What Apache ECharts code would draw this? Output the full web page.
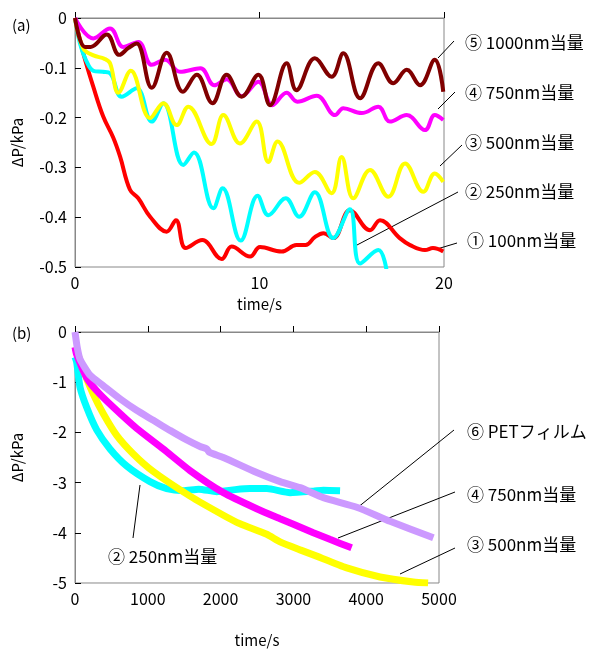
<!DOCTYPE html>
<html><head><meta charset="utf-8">
<script src="https://cdn.jsdelivr.net/npm/echarts@6/dist/echarts.min.js"></script>
<style>html,body{margin:0;padding:0;background:#fff}#c{width:595px;height:649px}</style>
</head><body><div id="c"></div>
<script>
// ---- Panel (a): time (s) vs ΔP (kPa) ----
const a100 = [[0,0],[0.45,-0.071],[0.99,-0.138],[1.53,-0.198],[2.07,-0.24],[2.44,-0.278],[2.98,-0.345],[3.43,-0.362],[4.07,-0.399],[4.97,-0.429],[5.47,-0.406],[6.0,-0.462],[6.9,-0.446],[7.95,-0.484],[8.49,-0.459],[9.49,-0.479],[10.03,-0.46],[11.2,-0.469],[12.0,-0.456],[12.5,-0.456],[13.0,-0.44],[13.46,-0.432],[14.0,-0.442],[14.9,-0.386],[15.99,-0.426],[16.53,-0.406],[17.6,-0.442],[18.16,-0.456],[18.97,-0.466],[19.4,-0.462],[19.96,-0.469]];
const a250 = [[0,0],[0.27,-0.051],[0.6,-0.085],[1.0,-0.106],[1.5,-0.108],[1.9,-0.111],[2.53,-0.158],[3.34,-0.141],[4.16,-0.208],[4.79,-0.171],[5.87,-0.295],[6.45,-0.27],[7.5,-0.382],[8.0,-0.342],[8.98,-0.447],[9.9,-0.357],[10.48,-0.396],[11.42,-0.362],[12.15,-0.399],[13.0,-0.35],[14.0,-0.442],[14.9,-0.384],[15.45,-0.493],[16.44,-0.466],[16.9,-0.51]];
const a500 = [[0,0],[0.45,-0.061],[1.0,-0.075],[1.6,-0.082],[1.9,-0.091],[2.35,-0.15],[3.02,-0.106],[4.07,-0.201],[4.79,-0.171],[5.51,-0.215],[6.14,-0.178],[7.4,-0.253],[8.04,-0.195],[8.94,-0.252],[9.85,-0.208],[10.48,-0.289],[10.98,-0.248],[12.15,-0.331],[13.0,-0.309],[13.9,-0.352],[14.45,-0.279],[15.08,-0.362],[15.99,-0.305],[16.98,-0.359],[17.89,-0.292],[18.88,-0.349],[19.5,-0.312],[19.96,-0.329]];
const a750 = [[0,0],[0.99,-0.041],[1.9,-0.021],[2.62,-0.058],[3.43,-0.048],[4.16,-0.094],[4.88,-0.084],[5.69,-0.108],[6.8,-0.101],[7.55,-0.135],[8.22,-0.123],[9.03,-0.157],[9.94,-0.128],[10.7,-0.175],[11.47,-0.15],[12.05,-0.168],[13.1,-0.156],[14.1,-0.195],[14.54,-0.181],[15.54,-0.191],[16.44,-0.178],[17.07,-0.208],[17.98,-0.195],[18.97,-0.225],[19.5,-0.195],[19.96,-0.205]];
const a1000 = [[0,0],[0.54,-0.058],[0.85,-0.058],[1.72,-0.033],[2.4,-0.074],[2.9,-0.06],[3.34,-0.051],[4.16,-0.14],[4.97,-0.07],[5.85,-0.148],[6.6,-0.114],[7.45,-0.171],[8.22,-0.114],[9.03,-0.158],[9.94,-0.114],[10.57,-0.175],[11.47,-0.091],[12.0,-0.145],[13.0,-0.081],[13.91,-0.118],[14.54,-0.071],[15.45,-0.161],[16.44,-0.091],[17.25,-0.131],[17.98,-0.104],[18.7,-0.135],[19.5,-0.084],[19.96,-0.148]];

// ---- Panel (b): time (s) vs ΔP (kPa) ----
const b250 = [[0,-0.5],[23,-0.6],[69,-1.1],[160,-1.5],[298,-1.95],[481,-2.33],[710,-2.67],[1030,-2.98],[1260,-3.12],[1488,-3.16],[1700,-3.13],[1947,-3.18],[2200,-3.14],[2404,-3.12],[2634,-3.12],[2954,-3.2],[3274,-3.17],[3412,-3.15],[3641,-3.16]];
const b500 = [[0,-0.3],[23,-0.38],[137,-0.84],[252,-1.24],[389,-1.63],[573,-2.06],[801,-2.43],[1076,-2.78],[1580,-3.27],[2038,-3.65],[2267,-3.82],[2634,-4.03],[2817,-4.18],[3092,-4.34],[3274,-4.44],[3733,-4.7],[4191,-4.88],[4648,-4.98],[4850,-5.0]];
const b750 = [[0,-0.3],[23,-0.45],[160,-0.91],[298,-1.17],[527,-1.5],[847,-1.92],[1213,-2.33],[1580,-2.76],[2038,-3.2],[2496,-3.52],[2817,-3.72],[3000,-3.83],[3274,-4.0],[3500,-4.13],[3800,-4.3]];
const bPET = [[0,0],[30,-0.3],[69,-0.54],[206,-0.86],[389,-1.07],[618,-1.33],[847,-1.56],[1076,-1.76],[1305,-1.96],[1535,-2.15],[1718,-2.28],[1810,-2.33],[1850,-2.4],[2038,-2.5],[2496,-2.8],[2817,-2.98],[3092,-3.1],[3412,-3.3],[3870,-3.49],[4328,-3.77],[4923,-4.1]];

const yTicksA = [0,-0.1,-0.2,-0.3,-0.4,-0.5];
const xTicksA = [0,10,20];
const yTicksB = [0,-1,-2,-3,-4,-5];
const xTicksB = [0,1000,2000,3000,4000,5000];

const FONT = "'Noto Sans CJK JP','Noto Sans',sans-serif";
const chart = echarts.init(document.getElementById('c'), null, {renderer:'canvas'});

function xAx(idx, min, max, interval, gap){
  return {gridIndex: idx, type:'value', min, max, interval,
    name:'time/s', nameLocation:'middle', nameGap:gap,
    nameTextStyle:{fontSize:15, color:'#000', fontFamily:FONT},
    axisLine:{show:true, lineStyle:{color:'#888', width:1}},
    axisTick:{show:true, inside:true, length:6, lineStyle:{color:'#000'}},
    axisLabel:{fontSize:16, color:'#000', fontFamily:FONT, margin:8, formatter: v => String(v)},
    splitLine:{show:false}};
}
function yAx(idx, min, max, interval){
  return {gridIndex: idx, type:'value', min, max, interval,
    name:'ΔP/kPa', nameLocation:'middle', nameGap:50, nameRotate:90,
    nameTextStyle:{fontSize:15, color:'#000', fontFamily:FONT},
    axisLine:{show:true, lineStyle:{color:'#888', width:1}},
    axisTick:{show:true, inside:true, length:6, lineStyle:{color:'#000'}},
    axisLabel:{fontSize:16, color:'#000', fontFamily:FONT, margin:8, formatter: v => String(Math.round(v*10)/10)},
    splitLine:{show:false}};
}
function ln(data, color, w, xi, smooth){
  return {type:'line', xAxisIndex:xi, yAxisIndex:xi, data, showSymbol:false, symbol:'none',
    smooth: smooth, clip:true, lineStyle:{color, width:w}, itemStyle:{color}};
}

const gText = (t, x, y, size) => ({type:'text', style:{text:t, x, y, fill:'#000', fontSize:size||17, fontFamily:FONT, verticalAlign:'middle'}});
const gLine = (x1,y1,x2,y2) => ({type:'line', shape:{x1,y1,x2,y2}, style:{stroke:'#000', lineWidth:1}});

chart.setOption({
  animation:false,
  backgroundColor:'#fff',
  grid:[
    {left:75, top:18, width:369, height:249, show:true, borderColor:'#888', borderWidth:1},
    {left:75, top:332, width:364, height:255, show:true, borderColor:'#888', borderWidth:1}
  ],
  xAxis:[xAx(0,0,20,10,30), xAx(1,0,5000,1000,50)],
  yAxis:[yAx(0,-0.5,0,0.1), yAx(1,-5,0,1)],
  series:[
    ln(a100,'#ff0000',4,0,0.4),
    ln(a250,'#00ffff',4,0,0.4),
    ln(a500,'#ffff00',4,0,0.4),
    ln(a750,'#ff00ff',4,0,0.4),
    ln(a1000,'#800000',4,0,0.4),
    ln(b250,'#00ffff',7,1,0.2),
    ln(b500,'#ffff00',7,1,0.2),
    ln(b750,'#ff00ff',7,1,0.2),
    ln(bPET,'#cc99ff',7,1,0.2)
  ],
  graphic:[
    gText('(a)', 12, 25, 15), gText('(b)', 12, 333, 15),
    gText('⑤ 1000nm当量', 465, 43), gLine(438,58,454,41),
    gText('④ 750nm当量', 465, 93), gLine(438,109,455,92),
    gText('③ 500nm当量', 465, 143), gLine(440,166,462,145),
    gText('② 250nm当量', 465, 192), gLine(357,245,458,192),
    gText('① 100nm当量', 467, 241), gLine(437,249,457,243),
    gText('⑥ PETフィルム', 467, 432), gLine(357,508,454,430),
    gText('④ 750nm当量', 467, 495), gLine(338,538,455,492),
    gText('③ 500nm当量', 467, 545), gLine(400,574,455,548),
    gText('② 250nm当量', 108, 557), gLine(133,538,140,485)
  ]
});
</script></body></html>
